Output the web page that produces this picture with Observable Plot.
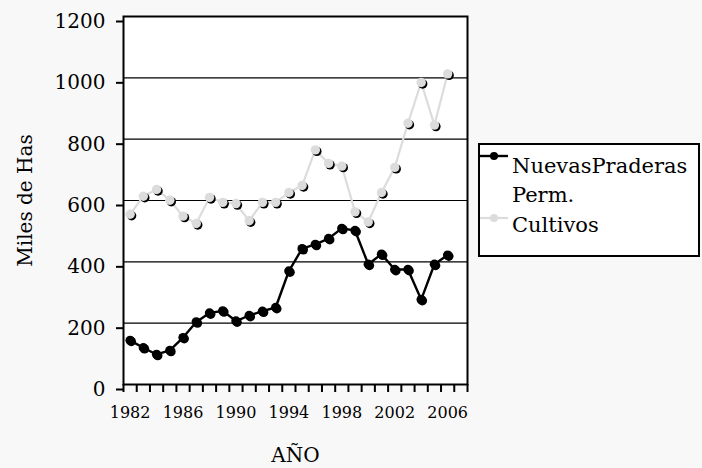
<!DOCTYPE html>
<html><head><meta charset="utf-8">
<script src="https://cdn.jsdelivr.net/npm/d3@7"></script>
<script src="https://cdn.jsdelivr.net/npm/@observablehq/plot@0.6"></script>
<style>
body{margin:0;background:#f8f8f8;}
#wrap{position:relative;width:702px;height:468px;font-family:"DejaVu Serif",serif;}
#legend{position:absolute;left:478px;top:143px;width:222px;height:114px;box-sizing:border-box;border:2px solid #000;background:#fff;}
#legend svg{position:absolute;left:0;top:0;}
</style></head><body>
<div id="wrap"><div id="chart"></div><div id="legend"></div></div>
<script>
const years = [1982,1983,1984,1985,1986,1987,1988,1989,1990,1991,1992,1993,1994,1995,1996,1997,1998,1999,2000,2001,2002,2003,2004,2005,2006];
const praderas = [144,120,98,111,153,204,233,240,207,225,239,251,370,443,457,476,509,502,392,425,375,375,277,392,422];
const cultivos = [555,614,636,601,549,525,610,594,590,534,594,594,626,649,765,721,712,563,530,626,708,852,985,846,1013];
const seriesNames = ["NuevasPraderas", "Perm.", "Cultivos"];
const yTicks = [0,200,400,600,800,1000,1200];
const xTickLabels = [1982,1986,1990,1994,1998,2002,2006];
const xTitle = "AÑO";
const yTitle = "Miles de Has";

const pr = years.map((y,i)=>({year:y, v:praderas[i]}));
const cu = years.map((y,i)=>({year:y, v:cultivos[i]}));
const bounds = d3.range(years[0]-0.5, years[years.length-1]+1.6, 1);
const gray = "#dcdcdc";

const chart = Plot.plot({
  width: 702, height: 468,
  marginLeft: 123, marginRight: 235, marginTop: 16, marginBottom: 84,
  style: {fontFamily: '"DejaVu Serif", serif', background: "transparent", color: "#000"},
  x: {domain: [years[0]-0.5, years[years.length-1]+1.5]},
  y: {domain: [0,1200]},
  marks: [
    Plot.frame({fill: "white", stroke: null}),
    Plot.ruleY(yTicks, {stroke: "#000", strokeWidth: 1.2}),
    Plot.frame({stroke: "#000", strokeWidth: 2}),
    Plot.axisY({ticks: yTicks, tickSize: 7, tickPadding: 11, fontSize: 20, dy: 5, tickFormat: d=>String(d), strokeWidth: 2, label: null}),
    Plot.axisX({ticks: bounds, tickSize: 8, tickFormat: ()=>"", strokeWidth: 2, label: null}),
    Plot.axisX({ticks: xTickLabels, tickSize: 0, tickPadding: 22, fontSize: 16, tickFormat: d=>String(d), label: null}),
    Plot.line(cu, {x: "year", y: "v", stroke: gray, strokeWidth: 2.2}),
    Plot.dot(cu, {x: "year", y: "v", r: 4.7, fill: "#000", dx: 1.5, dy: 1.5}),
    Plot.dot(cu, {x: "year", y: "v", r: 4.7, fill: gray}),
    Plot.line(pr, {x: "year", y: "v", stroke: "#000", strokeWidth: 2.4}),
    Plot.dot(pr, {x: "year", y: "v", r: 4.7, fill: "#000", dx: 1.2, dy: 1.2}),
    Plot.dot(pr, {x: "year", y: "v", r: 4.7, fill: "#000"}),
    Plot.text([xTitle], {frameAnchor: "bottom", textAnchor: "middle", lineAnchor: "middle", dy: 71, fontSize: 20}),
    Plot.text([yTitle], {frameAnchor: "left", textAnchor: "middle", lineAnchor: "middle", dx: -98, rotate: -90, fontSize: 20})
  ]
});
document.getElementById("chart").append(chart);

const lg = d3.select("#legend").append("svg").attr("width", 218).attr("height", 110)
  .style("font-family", '"DejaVu Serif", serif');
lg.append("line").attr("x1",0).attr("x2",28).attr("y1",11).attr("y2",11).attr("stroke","#000").attr("stroke-width",2.4);
lg.append("circle").attr("cx",14).attr("cy",11).attr("r",4).attr("fill","#000");
lg.append("line").attr("x1",0).attr("x2",28).attr("y1",73).attr("y2",73).attr("stroke",gray).attr("stroke-width",2.2);
lg.append("circle").attr("cx",14).attr("cy",73).attr("r",4).attr("fill",gray);
[[seriesNames[0],28],[seriesNames[1],57],[seriesNames[2],87]].forEach(([t,y])=>{
  lg.append("text").attr("x",32).attr("y",y).attr("font-size",21).attr("fill","#000").text(t);
});
</script>
</body></html>
